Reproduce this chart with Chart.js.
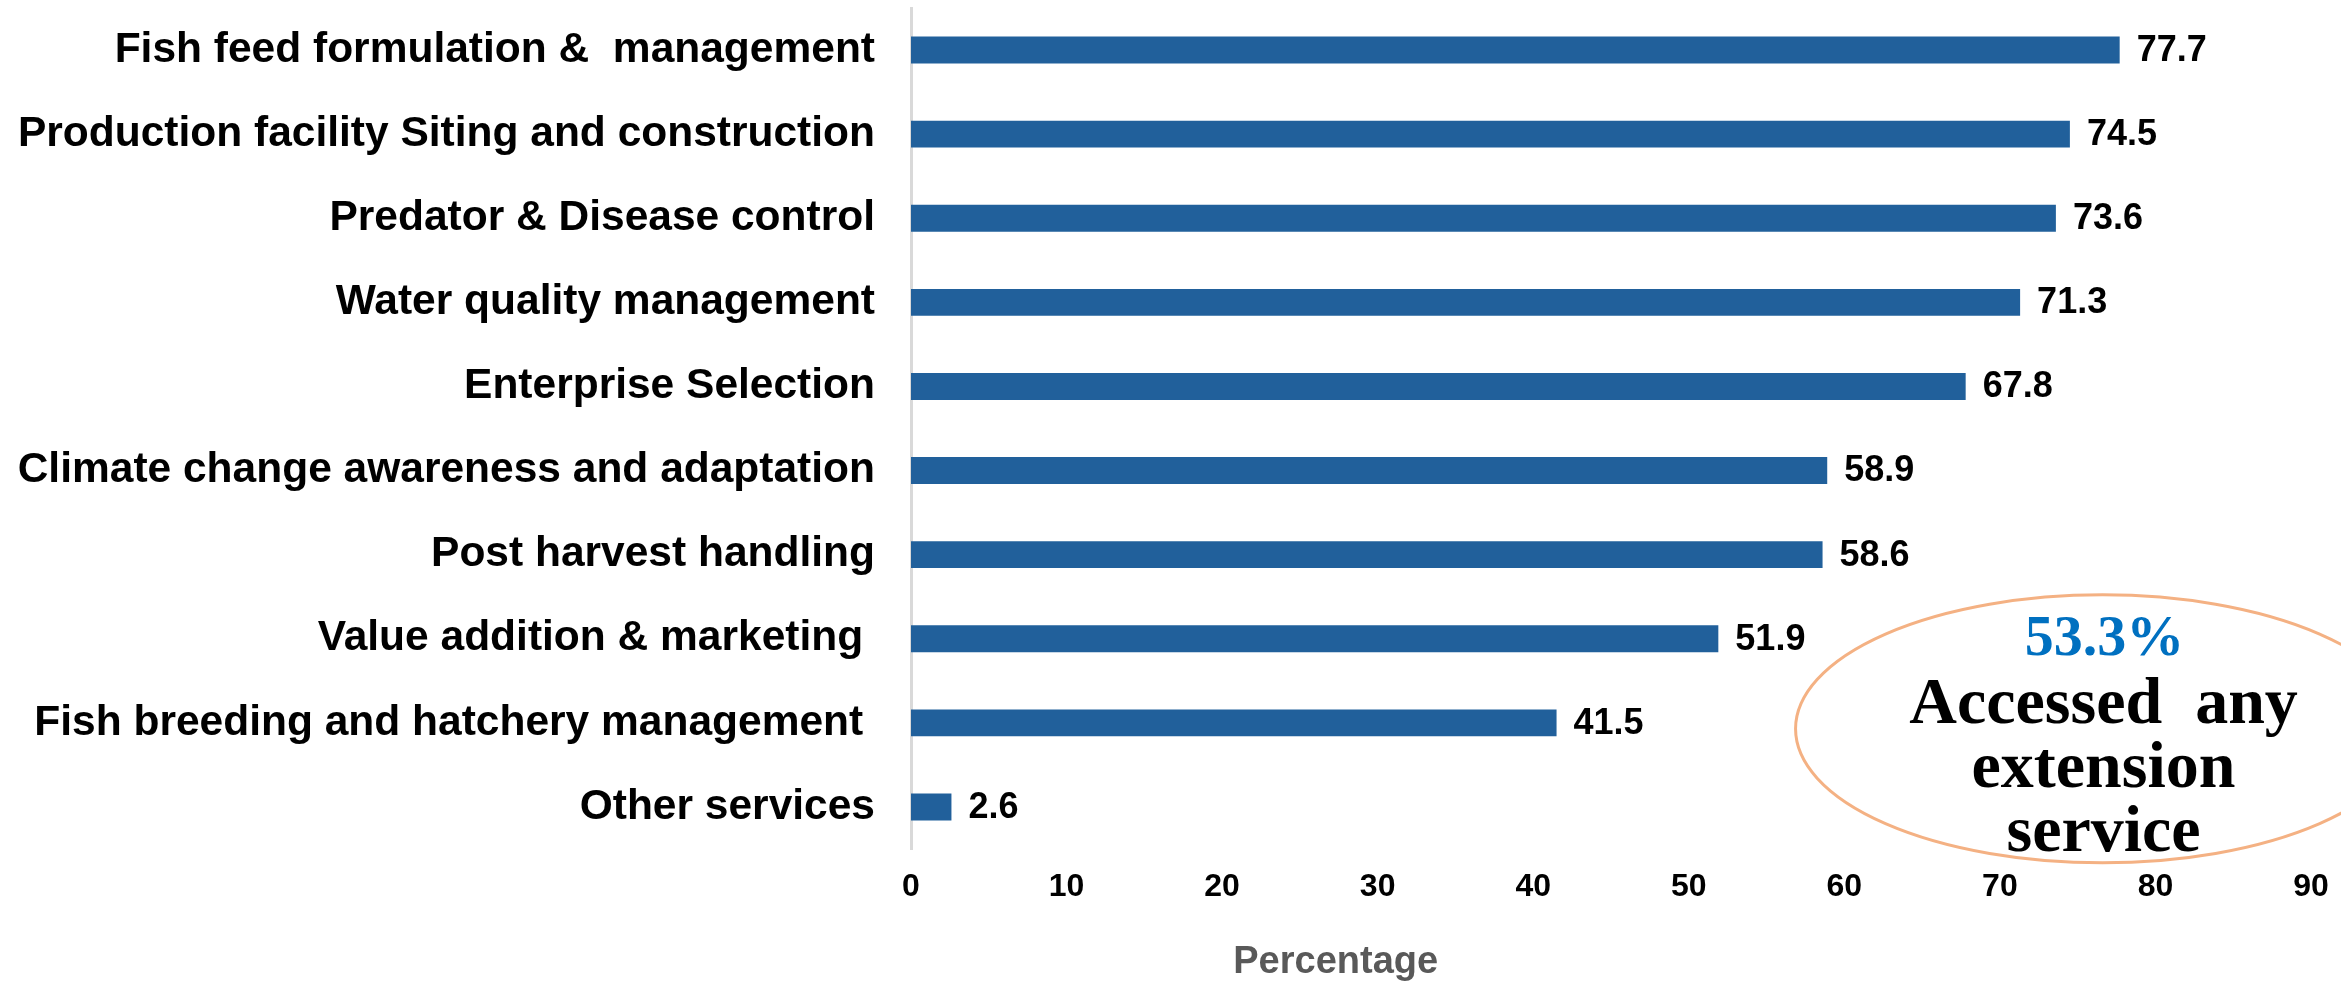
<!DOCTYPE html>
<html>
<head>
<meta charset="utf-8">
<script src="https://cdn.jsdelivr.net/npm/chart.js@4.4.1/dist/chart.umd.min.js"></script>
<style>
  html, body { margin: 0; padding: 0; background: #fff; }
  #wrap { width: 2341px; height: 981px; position: relative; }
</style>
</head>
<body>
<div id="wrap"><canvas id="grafico"></canvas></div>
<script>
const categorias = [
  'Fish feed formulation &  management',
  'Production facility Siting and construction',
  'Predator & Disease control',
  'Water quality management',
  'Enterprise Selection',
  'Climate change awareness and adaptation',
  'Post harvest handling',
  'Value addition & marketing ',
  'Fish breeding and hatchery management ',
  'Other services'
];
const porcentajes = [77.7, 74.5, 73.6, 71.3, 67.8, 58.9, 58.6, 51.9, 41.5, 2.6];
const ticksX = [0, 10, 20, 30, 40, 50, 60, 70, 80, 90];
const tituloX = 'Percentage';
const notaValor = '53.3%';
const notaTexto = ['Accessed  any', 'extension', 'service'];

const sans = '"Liberation Sans", Arial, sans-serif';
const serif = '"Liberation Serif", "Times New Roman", serif';

// etiquetas de valor al final de cada barra
const etiquetas = {
  id: 'etiquetas',
  afterDatasetsDraw(chart) {
    const ctx = chart.ctx;
    const meta = chart.getDatasetMeta(0);
    ctx.save();
    ctx.font = 'bold 36px ' + sans;
    ctx.fillStyle = '#000';
    ctx.textAlign = 'left';
    ctx.textBaseline = 'middle';
    meta.data.forEach((bar, i) => {
      ctx.fillText(porcentajes[i].toFixed(1), bar.x + 17, bar.y + 1);
    });
    ctx.restore();
  }
};

// titulo del eje y el ovalo con la nota
const extras = {
  id: 'extras',
  afterDraw(chart) {
    const ctx = chart.ctx;
    const x = chart.scales.x;
    const y = chart.scales.y;
    ctx.save();
    ctx.font = 'bold 38px ' + sans;
    ctx.fillStyle = '#595959';
    ctx.textAlign = 'center';
    ctx.textBaseline = 'alphabetic';
    ctx.fillText(tituloX, x.getPixelForValue(27.3), 973);

    const cx = x.getPixelForValue(76.6);
    const cy = y.getPixelForValue(8) + 6;
    ctx.beginPath();
    ctx.ellipse(cx, cy, 307, 134, 0, 0, Math.PI * 2);
    ctx.strokeStyle = '#F4B183';
    ctx.lineWidth = 3;
    ctx.stroke();

    ctx.fillStyle = '#0070C0';
    ctx.font = 'bold 58px ' + serif;
    ctx.fillText(notaValor, cx + 2, cy - 74);
    ctx.fillStyle = '#000';
    ctx.font = 'bold 66px ' + serif;
    notaTexto.forEach((t, i) => {
      ctx.fillText(t, cx + 1, cy - 6 + i * 64);
    });
    ctx.restore();
  }
};

new Chart(document.getElementById('grafico'), {
  type: 'bar',
  data: {
    labels: categorias,
    datasets: [{
      data: porcentajes,
      backgroundColor: '#21609B',
      barPercentage: 0.32,
      categoryPercentage: 1
    }]
  },
  options: {
    indexAxis: 'y',
    responsive: true,
    maintainAspectRatio: false,
    animation: false,
    layout: { padding: { top: 8, right: 30, left: 0, bottom: 0 } },
    plugins: {
      legend: { display: false },
      tooltip: { enabled: false }
    },
    scales: {
      x: {
        min: 0,
        max: 90,
        afterBuildTicks: s => { s.ticks = ticksX.map(v => ({ value: v })); },
        afterFit: s => { s.height = 132; s.paddingLeft = 0; s.paddingRight = 0; },
        grid: { display: false, drawTicks: false },
        border: { display: false },
        ticks: {
          padding: 19,
          color: '#000',
          font: { family: sans, size: 32, weight: 'bold' }
        }
      },
      y: {
        afterFit: s => { s.width = 911; s.paddingTop = 0; s.paddingBottom = 0; },
        grid: { display: false, drawTicks: false },
        border: { display: true, color: '#D9D9D9', width: 3 },
        ticks: {
          padding: 36,
          color: '#000',
          font: { family: sans, size: 42.5, weight: 'bold' }
        }
      }
    }
  },
  plugins: [etiquetas, extras]
});
</script>
</body>
</html>
